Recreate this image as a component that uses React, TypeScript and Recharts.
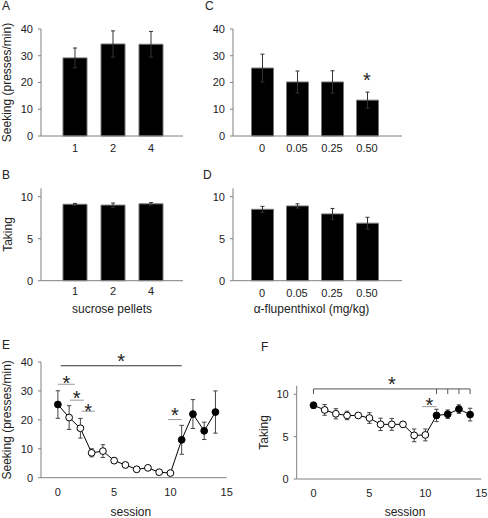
import React from 'react';
import {
  BarChart,
  Bar,
  LineChart,
  Line,
  XAxis,
  YAxis,
  ErrorBar,
  Label,
  ReferenceDot,
  ReferenceLine,
} from 'recharts';

const FONT = '"Liberation Sans", Arial, sans-serif';
const AXIS = '#808080';
const INK = '#222';

// A / B: number of sucrose pellets
const pellets = ['1', '2', '4'];
const pelletSeek = [29.2, 34.4, 34.3];
const pelletSeekErr = [3.7, 4.9, 4.8];
const pelletTake = [9.1, 9.0, 9.15];
const pelletTakeErr = [0.1, 0.25, 0.15];

// C / D: alpha-flupenthixol dose
const doses = ['0', '0.05', '0.25', '0.50'];
const doseSeek = [25.4, 20.2, 20.2, 13.4];
const doseSeekErr = [5.2, 4.1, 4.2, 3.0];
const doseTake = [8.5, 8.9, 7.95, 6.85];
const doseTakeErr = [0.35, 0.25, 0.65, 0.7];

// E / F: sessions (filled = reinforced sessions)
const sessions = [0, 1, 2, 3, 4, 5, 6, 7, 8, 9, 10, 11, 12, 13, 14];
const sessionSeek = [25.3, 20.8, 17.1, 8.6, 9.2, 5.9, 4.4, 2.9, 3.4, 1.9, 1.6, 13.1, 22.0, 16.2, 22.7];
const sessionSeekErr = [4.75, 4.1, 3.4, 1.4, 2.2, 1.0, 0.9, 0.5, 0.6, 0.5, 0.5, 5.0, 5.0, 3.0, 7.3];
const sessionTake = [8.7, 8.15, 7.7, 7.5, 7.5, 7.2, 6.45, 6.45, 6.45, 5.15, 5.2, 7.5, 7.65, 8.25, 7.6];
const sessionTakeErr = [0.35, 0.63, 0.6, 0.5, 0.2, 0.63, 0.73, 0.7, 0.3, 0.75, 0.7, 0.73, 0.5, 0.5, 0.75];
const sessionFilled = [true, false, false, false, false, false, false, false, false, false, false, true, true, true, true];

// significance markers: [from session, to session, y]
const seekSig: [number, number, number][] = [
  [0.25, 11, 38.7],
  [0, 1.5, 32.3],
  [1.05, 2.3, 26.8],
  [2.1, 3.3, 23.0],
  [9.8, 11, 20.1],
];
const takeSig: [number, number, number][] = [
  [0, 14, 10.63],
  [9.7, 11, 8.54],
];
const takeBracketTicks = [0, 11, 12, 13, 14];

const tickStyle = { fill: INK, fontSize: 11, fontFamily: FONT };
const titleStyle = { fill: INK, fontSize: 12, fontFamily: FONT };

type BarPanelProps = {
  x: number;
  y: number;
  w: number;
  h: number;
  mTop: number;
  mRight: number;
  yW: number;
  xH: number;
  cats: string[];
  means: number[];
  errs: number[];
  yMax: number;
  yTicks: number[];
  pad: { left: number; right: number };
  barSize: number;
  tickGap: number;
  yLabel?: string;
  yLabelOffset?: number;
  xLabel?: string;
  xLabelDx?: number;
  star?: { cat: string; y: number };
};

function BarPanel(p: BarPanelProps) {
  const data = p.cats.map((c, i) => ({ cat: c, mean: p.means[i], err: p.errs[i] }));
  return (
    <div style={{ position: 'absolute', left: p.x, top: p.y }}>
      <BarChart
        width={p.w}
        height={p.h}
        data={data}
        margin={{ top: p.mTop, right: p.mRight, bottom: 0, left: 0 }}
      >
        <XAxis
          dataKey="cat"
          height={p.xH}
          padding={p.pad}
          stroke={AXIS}
          tickLine={false}
          tickSize={0}
          tickMargin={p.tickGap}
          tick={tickStyle}
        >
          {p.xLabel && (
            <Label
              value={p.xLabel}
              position="insideBottom"
              offset={6.7}
              dx={p.xLabelDx || 0}
              style={titleStyle}
            />
          )}
        </XAxis>
        <YAxis
          domain={[0, p.yMax]}
          ticks={p.yTicks}
          width={p.yW}
          stroke={AXIS}
          tickSize={3}
          tickMargin={5}
          tick={tickStyle}
          interval={0}
        >
          {p.yLabel && (
            <Label
              value={p.yLabel}
              angle={-90}
              position="insideLeft"
              offset={p.yLabelOffset}
              style={{ ...titleStyle, textAnchor: 'middle' }}
            />
          )}
        </YAxis>
        <Bar
          dataKey="mean"
          fill="#000"
          stroke="#777"
          strokeWidth={1}
          barSize={p.barSize}
          isAnimationActive={false}
        >
          <ErrorBar dataKey="err" direction="y" width={2} stroke="#333" strokeWidth={1} />
        </Bar>
        {p.star && (
          <ReferenceDot
            x={p.star.cat}
            y={p.star.y}
            r={0}
            fill="none"
            stroke="none"
            ifOverflow="visible"
            label={{ value: '*', position: 'center', fontSize: 20, fill: INK, fontFamily: FONT }}
          />
        )}
      </BarChart>
    </div>
  );
}

const SessionDot = (props: any) => {
  const { cx, cy, index } = props;
  if (cx == null || cy == null) return <g key={`d-${index}`} />;
  return (
    <circle
      key={`d-${index}`}
      cx={cx}
      cy={cy}
      r={3.4}
      fill={sessionFilled[index] ? '#000' : '#fff'}
      stroke="#000"
      strokeWidth={1}
    />
  );
};

type SessionPanelProps = {
  x: number;
  y: number;
  w: number;
  h: number;
  mTop: number;
  mRight: number;
  yW: number;
  xH: number;
  means: number[];
  errs: number[];
  yMax: number;
  yTicks: number[];
  yLabel: string;
  yLabelOffset: number;
  xLabelDx: number;
  sig: [number, number, number][];
  sigColors: string[];
  starDy: number[];
  bracketTicks?: number[];
};

function SessionPanel(p: SessionPanelProps) {
  const data = sessions.map((s, i) => ({ s, mean: p.means[i], err: p.errs[i] }));
  return (
    <div style={{ position: 'absolute', left: p.x, top: p.y }}>
      <LineChart
        width={p.w}
        height={p.h}
        data={data}
        margin={{ top: p.mTop, right: p.mRight, bottom: 0, left: 0 }}
      >
        <XAxis
          dataKey="s"
          type="number"
          domain={[-1.5, 15]}
          ticks={[0, 5, 10, 15]}
          height={p.xH}
          stroke={AXIS}
          tickLine={false}
          tickSize={0}
          tickMargin={10}
          tick={tickStyle}
          interval={0}
        >
          <Label value="session" position="insideBottom" offset={2} dx={p.xLabelDx} style={titleStyle} />
        </XAxis>
        <YAxis
          domain={[0, p.yMax]}
          ticks={p.yTicks}
          width={p.yW}
          stroke={AXIS}
          tickSize={3}
          tickMargin={5}
          tick={tickStyle}
          interval={0}
        >
          <Label
            value={p.yLabel}
            angle={-90}
            position="insideLeft"
            offset={p.yLabelOffset}
            style={{ ...titleStyle, textAnchor: 'middle' }}
          />
        </YAxis>
        {p.sig.map(([a, b, yv], i) => (
          <ReferenceLine
            key={`sig-${i}`}
            segment={[
              { x: a, y: yv },
              { x: b, y: yv },
            ]}
            stroke={p.sigColors[i]}
            strokeWidth={1}
            ifOverflow="visible"
            label={{
              value: '*',
              position: 'center',
              dy: p.starDy[i],
              fontSize: 20,
              fill: INK,
              fontFamily: FONT,
            }}
          />
        ))}
        {(p.bracketTicks || []).map((s) => (
          <ReferenceLine
            key={`bt-${s}`}
            segment={[
              { x: s, y: p.sig[0][2] },
              { x: s, y: p.sig[0][2] - 0.6 },
            ]}
            stroke={p.sigColors[0]}
            strokeWidth={1}
            ifOverflow="visible"
          />
        ))}
        <Line
          dataKey="mean"
          stroke="#000"
          strokeWidth={1}
          dot={SessionDot}
          activeDot={false}
          isAnimationActive={false}
        >
          <ErrorBar dataKey="err" direction="y" width={2.2} stroke="#444" strokeWidth={1} />
        </Line>
      </LineChart>
    </div>
  );
}

const letter = (t: string, x: number, y: number) => (
  <div
    style={{
      position: 'absolute',
      left: x,
      top: y,
      fontSize: 12,
      lineHeight: '12px',
      fontFamily: FONT,
      color: INK,
    }}
  >
    {t}
  </div>
);

export default function App() {
  return (
    <div
      style={{
        position: 'absolute',
        left: 0,
        top: 0,
        width: 488,
        height: 518,
        background: '#fff',
        fontFamily: FONT,
        overflow: 'hidden',
      }}
    >
      <BarPanel
        x={0}
        y={0}
        w={200}
        h={160}
        mTop={29}
        mRight={17}
        yW={41}
        xH={24}
        cats={pellets}
        means={pelletSeek}
        errs={pelletSeekErr}
        yMax={40}
        yTicks={[0, 10, 20, 30, 40]}
        pad={{ left: 15, right: 13 }}
        barSize={24}
        tickGap={8}
        yLabel="Seeking (presses/min)"
        yLabelOffset={7}
      />
      <BarPanel
        x={190}
        y={0}
        w={230}
        h={160}
        mTop={29}
        mRight={18}
        yW={43}
        xH={24}
        cats={doses}
        means={doseSeek}
        errs={doseSeekErr}
        yMax={40}
        yTicks={[0, 10, 20, 30, 40]}
        pad={{ left: 11.5, right: 17.5 }}
        barSize={22}
        tickGap={8}
        star={{ cat: '0.50', y: 20.8 }}
      />
      <BarPanel
        x={0}
        y={160}
        w={200}
        h={160}
        mTop={28.3}
        mRight={17}
        yW={41}
        xH={39.3}
        cats={pellets}
        means={pelletTake}
        errs={pelletTakeErr}
        yMax={11}
        yTicks={[0, 5, 10]}
        pad={{ left: 15, right: 13 }}
        barSize={24}
        tickGap={6}
        yLabel="Taking"
        yLabelOffset={7.5}
        xLabel="sucrose pellets"
      />
      <BarPanel
        x={190}
        y={160}
        w={230}
        h={160}
        mTop={28.3}
        mRight={18}
        yW={43}
        xH={39.3}
        cats={doses}
        means={doseTake}
        errs={doseTakeErr}
        yMax={11}
        yTicks={[0, 5, 10]}
        pad={{ left: 11.5, right: 17.5 }}
        barSize={22}
        tickGap={8}
        xLabel="α-flupenthixol (mg/kg)"
        xLabelDx={-6}
      />
      <SessionPanel
        x={0}
        y={330}
        w={250}
        h={188}
        mTop={32}
        mRight={23.3}
        yW={41}
        xH={40.3}
        means={sessionSeek}
        errs={sessionSeekErr}
        yMax={40}
        yTicks={[0, 10, 20, 30, 40]}
        yLabel="Seeking (presses/min)"
        yLabelOffset={7}
        xLabelDx={-3}
        sig={seekSig}
        sigColors={['#333', '#999', '#999', '#999', '#999']}
        starDy={[-4.5, -1.7, -2.7, -0.7, -5]}
      />
      <SessionPanel
        x={250}
        y={330}
        w={238}
        h={188}
        mTop={55.8}
        mRight={6.7}
        yW={46.7}
        xH={39}
        means={sessionTake}
        errs={sessionTakeErr}
        yMax={11}
        yTicks={[0, 5, 10]}
        yLabel="Taking"
        yLabelOffset={14}
        xLabelDx={16}
        sig={takeSig}
        sigColors={['#555', '#999']}
        starDy={[-5.4, -1.7]}
        bracketTicks={takeBracketTicks}
      />
      {letter('A', 2, -0.5)}
      {letter('C', 205, -0.5)}
      {letter('B', 2, 168.5)}
      {letter('D', 203, 168.5)}
      {letter('E', 2, 338.5)}
      {letter('F', 261, 340.5)}
    </div>
  );
}
